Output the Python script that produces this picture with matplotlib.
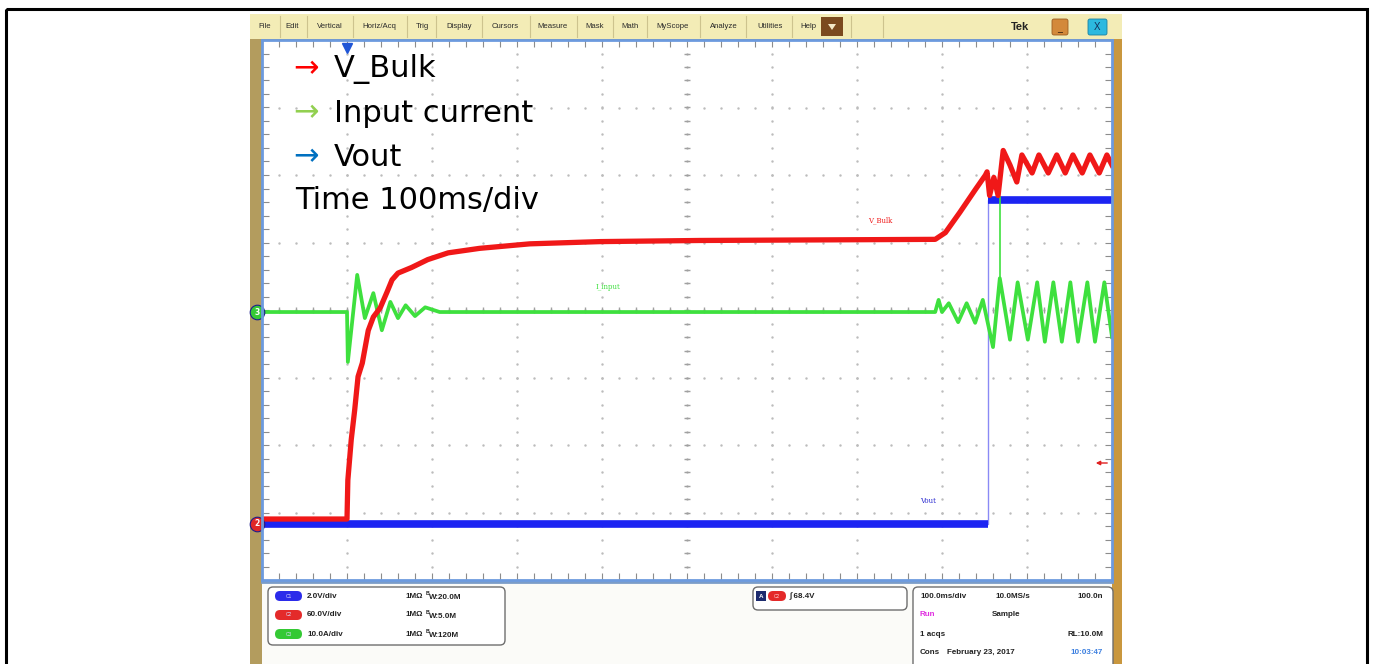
import matplotlib
matplotlib.use('Agg')
import matplotlib.pyplot as plt
from matplotlib.patches import Rectangle, FancyBboxPatch, Polygon
import numpy as np

W, H = 1375, 664

# vertical settings per channel: units per division, ground level in divisions
ch1_scale, ch1_offset = 2.0, -3.17    # Vout
ch2_scale, ch2_offset = 60.0, -3.17   # V_Bulk
ch3_scale, ch3_offset = 10.0, -0.03   # input current

# V_Bulk (C2): time in ms, volts
vbulk_t = [0, 100, 101, 105, 109, 113, 118, 125, 131, 139, 147, 153, 160, 176, 195,
           219, 256, 315, 398, 515, 792, 804, 821, 839, 851, 853, 856, 861, 866, 872,
           880, 888, 894, 906, 914, 925, 935, 945, 954, 965, 974, 985, 994, 1000]
vbulk_v = [4.4, 4.4, 39, 75, 101, 131, 143, 172, 184, 192, 206, 217, 223, 228, 235,
           241, 245, 249, 251, 252, 253, 259, 277, 297, 310, 313, 292, 308, 292, 332,
           319, 304, 328, 312, 328, 312, 328, 312, 328, 312, 328, 312, 328, 319]

# input current (C3): time in ms, amps
iin_t = [0, 100, 101, 112, 121, 131, 141, 151, 160, 169, 180, 192, 209, 792, 796,
         800, 808, 819, 829, 839, 848, 860, 868, 880, 889, 901, 912, 921, 931, 941,
         951, 960, 971, 980, 991, 1000]
iin_a = [0, 0, -7.4, 5.5, -0.9, 2.8, -2.7, 1.5, -0.9, 1.0, -0.6, 0.7, 0, 0, 1.8,
         0, 1.3, -1.5, 1.3, -1.6, 1.8, -5.2, 5.0, -4.1, 4.4, -4.1, 4.4, -4.4, 4.4, -4.4,
         4.4, -4.4, 4.4, -4.4, 4.4, -3.7]
iin_spike_t = [868, 868]
iin_spike_a = [5.0, 17.0]

# Vout (C1): time in ms, volts
vout_t = [0, 854, 854, 1000]
vout_v = [0.0, 0.0, 9.6, 9.6]

menu_items = ['File', 'Edit', 'Vertical', 'Horiz/Acq', 'Trig', 'Display', 'Cursors',
              'Measure', 'Mask', 'Math', 'MyScope', 'Analyze', 'Utilities', 'Help']
notes = ['V_Bulk', 'Input current', 'Vout', 'Time 100ms/div']
note_colors = ['#ff0000', '#92d050', '#0070c0', None]
channel_rows = [('C1', '2.0V/div', '20.0M', '#2b2bea'),
                ('C2', '60.0V/div', '5.0M', '#e42a2a'),
                ('C3', '10.0A/div', '120M', '#34c934')]

RED, GREEN, BLUE = '#f01818', '#3ee03e', '#1c24f2'
UI = 'Liberation Sans'


def to_div(vals, scale, offset):
    return np.asarray(vals, dtype=float) / scale + offset


fig = plt.figure(figsize=(W / 100, H / 100), dpi=100)

# pixel-space layer behind the scope screen
bg = fig.add_axes([0, 0, 1, 1], zorder=0)
bg.set_xlim(0, W)
bg.set_ylim(H, 0)
bg.axis('off')

bg.add_patch(Rectangle((6, 9), 1361, 700, fill=False, ec='black', lw=2.2))
bg.add_patch(Rectangle((250, 14), 872, 660, fc='#b39c5e', ec='none'))
bg.add_patch(Rectangle((1110, 38), 12, 630, fc='#c9973e', ec='none'))
bg.add_patch(Rectangle((250, 14), 872, 25, fc='#f3ecb6', ec='none'))
bg.add_patch(Rectangle((262, 580), 850, 90, fc='#fbfbf8', ec='none'))
bg.plot([262, 1112], [582, 582], color='#7a9cc8', lw=2)

# menu bar
menu_x = [265, 292, 330, 379, 422, 459, 505, 553, 595, 630, 673, 724, 770, 808]
menu_sep = [280, 307, 353, 407, 436, 482, 530, 577, 613, 647, 700, 746, 792, 851, 883]
for name, x in zip(menu_items, menu_x):
    bg.text(x, 27, name, ha='center', va='center', fontsize=5.6, family=UI,
            color='#2a2a2a')
for x in menu_sep:
    bg.plot([x, x], [16, 37], color='#cdc38e', lw=0.8)
bg.add_patch(Rectangle((821, 17), 22, 19, fc='#7b4a1e', ec='none'))
bg.add_patch(Polygon([[828, 24], [836, 24], [832, 30]], closed=True, fc='#f4e9c8'))
bg.text(1020, 27, 'Tek', ha='center', va='center', fontsize=8, family=UI,
        fontweight='bold', color='#222222')
bg.add_patch(FancyBboxPatch((1052, 19), 16, 16, boxstyle='round,pad=0,rounding_size=2',
                            fc='#d3893a', ec='#9b5c20', lw=0.6))
bg.text(1060, 28, '_', ha='center', va='center', fontsize=7, color='#3a2410')
bg.add_patch(FancyBboxPatch((1088, 19), 19, 16, boxstyle='round,pad=0,rounding_size=2',
                            fc='#2cb9df', ec='#1b7fa0', lw=0.6))
bg.text(1097.5, 27.5, 'X', ha='center', va='center', fontsize=7, family=UI,
        color='#14305a')

# readout boxes under the screen
bg.add_patch(FancyBboxPatch((268, 587), 237, 58, boxstyle='round,pad=0,rounding_size=5',
                            fc='white', ec='#6e6e6e', lw=1))
for i, (cname, vdiv, bw, col) in enumerate(channel_rows):
    y = 596 + i * 19
    bg.add_patch(FancyBboxPatch((275, y - 5), 27, 10,
                                boxstyle='round,pad=0,rounding_size=5',
                                fc=col, ec='none'))
    bg.text(288.5, y, cname, ha='center', va='center', fontsize=3.5, family=UI,
            color='#dcdcff')
    bg.text(307, y, vdiv, ha='left', va='center', fontsize=5.8, family=UI,
            fontweight='bold', color='#222222')
    bg.text(405, y, '1M\u03a9', ha='left', va='center', fontsize=5.8, family=UI,
            fontweight='bold', color='#222222')
    bg.text(426, y - 2.5, 'B', ha='left', va='center', fontsize=3.8, family=UI,
            fontweight='bold', color='#222222')
    bg.text(429, y + 1.5, 'W:' + bw, ha='left', va='center', fontsize=5.8, family=UI,
            fontweight='bold', color='#222222')

bg.add_patch(FancyBboxPatch((753, 587), 154, 23, boxstyle='round,pad=0,rounding_size=5',
                            fc='white', ec='#6e6e6e', lw=1))
bg.add_patch(Rectangle((756, 591), 10, 10, fc='#1d2b6e', ec='none'))
bg.text(761, 596, 'A', ha='center', va='center', fontsize=4.5, family=UI,
        color='white', fontweight='bold')
bg.add_patch(FancyBboxPatch((768, 591), 18, 10, boxstyle='round,pad=0,rounding_size=5',
                            fc='#e42a2a', ec='none'))
bg.text(777, 596, 'C2', ha='center', va='center', fontsize=3.5, family=UI,
        color='#ffd0d0')
bg.text(790, 596, '\u222b 68.4V', ha='left', va='center', fontsize=5.8, family=UI,
        fontweight='bold', color='#222222')

bg.add_patch(FancyBboxPatch((913, 587), 200, 90, boxstyle='round,pad=0,rounding_size=5',
                            fc='white', ec='#6e6e6e', lw=1))
info = dict(va='center', fontsize=5.8, family=UI, fontweight='bold')
bg.text(920, 596, '100.0ms/div', ha='left', color='#222222', **info)
bg.text(995, 596, '10.0MS/s', ha='left', color='#222222', **info)
bg.text(1103, 596, '100.0n', ha='right', color='#222222', **info)
bg.text(920, 615, 'Run', ha='left', color='#e030e0', **info)
bg.text(992, 615, 'Sample', ha='left', color='#222222', **info)
bg.text(920, 634, '1 acqs', ha='left', color='#222222', **info)
bg.text(1103, 634, 'RL:10.0M', ha='right', color='#222222', **info)
bg.text(920, 652, 'Cons', ha='left', color='#222222', **info)
bg.text(947, 652, 'February 23, 2017', ha='left', color='#222222', **info)
bg.text(1103, 652, '10:03:47', ha='right', color='#3a7ee0', **info)

# scope screen: x in ms, y in divisions
ax = fig.add_axes([262 / W, (H - 580) / H, 850 / W, 540 / H], zorder=1)
ax.set_xlim(0, 1000)
ax.set_ylim(-4, 4)
ax.set_facecolor('white')
minor_t = np.arange(0, 1001, 20)
minor_y = np.arange(-4, 4.01, 0.2)
ax.set_xticks(minor_t)
ax.set_yticks(minor_y)
ax.tick_params(direction='in', length=5, width=0.8, color='#8c8c8c', top=True,
               right=True, labelbottom=False, labelleft=False)
for s in ax.spines.values():
    s.set_color('#6c9ade')
    s.set_linewidth(2)

# graticule dots and centre cross
for t in range(100, 1000, 100):
    ax.plot([t] * len(minor_y), minor_y, ls='none', marker='.', ms=1.5,
            color='#bcbcbc')
for y in range(-3, 4):
    ax.plot(minor_t, [y] * len(minor_t), ls='none', marker='.', ms=1.5,
            color='#bcbcbc')
ax.plot(minor_t, np.zeros(len(minor_t)), ls='none', marker='|', ms=4, color='#a0a0a0')
ax.plot([500] * len(minor_y), minor_y, ls='none', marker='_', ms=4, color='#a0a0a0')

# traces
vo = to_div(vout_v, ch1_scale, ch1_offset)
ax.plot(vout_t, vo, color='#8a8af5', lw=1)
ax.plot(vout_t[:2], vo[:2], color=BLUE, lw=5.5, solid_capstyle='butt')
ax.plot(vout_t[2:], vo[2:], color=BLUE, lw=5.5, solid_capstyle='butt')

ax.plot(iin_spike_t, to_div(iin_spike_a, ch3_scale, ch3_offset), color=GREEN, lw=1.2)
ax.plot(iin_t, to_div(iin_a, ch3_scale, ch3_offset), color=GREEN, lw=2.7,
        solid_joinstyle='round')

ax.plot(vbulk_t, to_div(vbulk_v, ch2_scale, ch2_offset), color=RED, lw=3.8,
        solid_joinstyle='round')

# trigger position and channel ground markers
ax.plot(100, 3.88, marker='v', ms=7, color='#1f55d6', clip_on=False)
for off, num, col in [(ch3_offset, '3', '#36c936'), (ch2_offset, '2', '#e02828')]:
    ax.plot(-6, off, marker='o', ms=10.5, mfc=col, mec='#1d1d8c', mew=0.8, clip_on=False)
    ax.text(-6, off, num, ha='center', va='center', fontsize=5.5, color='white',
            fontweight='bold', clip_on=False)

# pixel-space layer above the screen
top = fig.add_axes([0, 0, 1, 1], zorder=2)
top.set_xlim(0, W)
top.set_ylim(H, 0)
top.axis('off')
top.patch.set_alpha(0)

top.text(880, 220, 'V_Bulk', ha='center', va='center', fontsize=5, family='DejaVu Serif',
         color=RED)
top.text(608, 287, 'I_input', ha='center', va='center', fontsize=5,
         family='DejaVu Serif', color=GREEN)
top.text(928, 501, 'Vout', ha='center', va='center', fontsize=5, family='DejaVu Serif',
         color='#2a2ad0')
top.annotate('', xy=(1093, 463), xytext=(1110, 463),
             arrowprops=dict(arrowstyle='-|>', color='#e02020', lw=1, mutation_scale=6))

for i, (txt, col) in enumerate(zip(notes, note_colors)):
    y = 69 + i * 44
    if col:
        top.text(293, y, '\u2192', ha='left', va='center', fontsize=22,
                 family='DejaVu Sans', color=col)
        top.text(334, y, txt, ha='left', va='center', fontsize=22,
                 family='DejaVu Sans', color='black')
    else:
        top.text(295, y, txt, ha='left', va='center', fontsize=22,
                 family='DejaVu Sans', color='black')

fig.savefig('out.png', dpi=100)
